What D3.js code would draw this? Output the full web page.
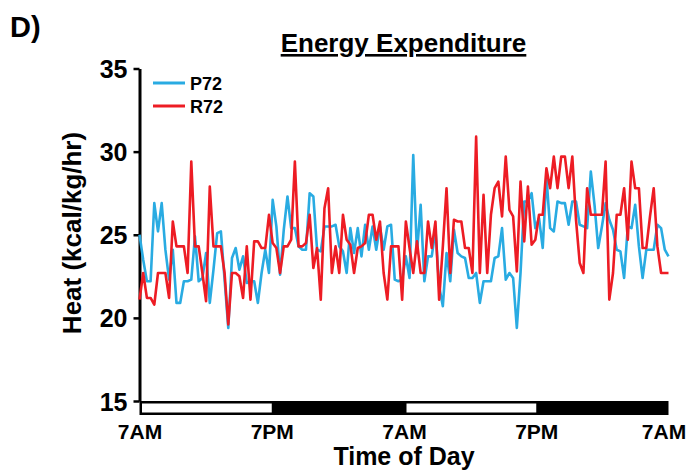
<!DOCTYPE html>
<html>
<head>
<meta charset="utf-8">
<script src="https://cdn.jsdelivr.net/npm/d3@7"></script>
<style>
  body { margin: 0; background: #fff; }
  text { font-family: Arial, "Liberation Sans", sans-serif; font-weight: bold; fill: #000; }
</style>
</head>
<body>
<div id="my_dataviz"></div>
<script>
// data, one value per 20 min bin over 48 h
var p72 = [
  25.0, 23.5, 22.2, 22.2, 26.9, 25.2, 26.9, 24.1, 22.3, 24.1,
  20.9, 20.9, 22.2, 22.2, 22.3, 24.9, 22.2, 22.4, 23.9, 20.9,
  22.9, 25.1, 25.2, 22.3, 19.4, 23.6, 24.2, 22.9, 23.7, 22.1,
  22.2, 22.2, 20.9, 22.7, 24.1, 22.7, 27.1, 25.5, 22.6, 25.3,
  27.3, 25.4, 25.4, 24.3, 24.1, 24.1, 27.5, 27.3, 24.1, 24.0,
  25.5, 25.5, 25.5, 25.6, 24.3, 24.0, 22.7, 25.4, 23.9, 25.4,
  23.7, 25.6, 24.1, 25.5, 24.1, 25.5, 24.1, 25.5, 25.6, 22.3,
  22.2, 22.3, 23.7, 22.4, 29.8, 23.9, 26.8, 22.2, 23.7, 23.7,
  25.3, 21.9, 20.7, 23.9, 22.2, 25.3, 23.9, 23.7, 23.6, 22.4,
  22.4, 22.7, 20.9, 22.2, 22.2, 22.2, 23.6, 23.7, 25.4, 22.3,
  22.7, 22.4, 19.4, 22.7, 27.0, 27.0, 27.5, 25.4, 26.0, 24.2,
  28.5, 25.4, 25.2, 27.0, 26.9, 26.9, 25.6, 27.0, 27.0, 25.6,
  25.5, 25.4, 28.8, 26.8, 24.2, 25.5, 26.9, 25.9, 25.3, 24.1,
  24.0, 22.4, 25.5, 25.4, 26.8, 24.3, 22.4, 24.1, 24.1, 24.1,
  25.6, 25.4, 24.1, 23.7
];
var r72 = [
  21.1, 22.7, 21.2, 21.2, 20.8, 22.7, 22.7, 22.7, 21.2, 25.8,
  24.3, 24.3, 24.3, 22.7, 29.4, 24.3, 24.3, 22.7, 21.0, 27.9,
  24.3, 24.3, 24.3, 22.7, 19.6, 22.7, 22.7, 22.5, 21.2, 24.3,
  21.1, 24.6, 24.6, 24.2, 24.2, 26.2, 24.5, 24.2, 22.7, 24.3,
  24.3, 24.7, 29.4, 24.3, 24.3, 24.5, 26.2, 23.0, 24.2, 21.1,
  26.6, 27.8, 22.7, 24.3, 22.7, 26.2, 24.7, 24.4, 22.7, 24.2,
  24.3, 24.5, 26.2, 26.2, 24.7, 25.8, 22.7, 21.1, 24.3, 24.3,
  24.3, 21.1, 25.8, 24.2, 22.7, 24.6, 22.7, 22.7, 25.8, 24.2,
  25.8, 21.1, 24.3, 27.8, 22.7, 25.9, 25.8, 25.8, 24.2, 24.2,
  22.7, 30.9, 22.7, 27.4, 22.7, 26.2, 27.8, 28.2, 26.1, 29.7,
  26.5, 26.1, 22.8, 28.2, 24.6, 27.9, 24.4, 24.7, 26.2, 26.2,
  29.0, 27.8, 29.7, 27.8, 29.7, 29.7, 27.8, 29.7, 25.9, 23.3,
  22.7, 27.8, 26.2, 26.2, 26.2, 26.2, 29.4, 21.1, 22.7, 26.2,
  26.2, 27.8, 24.7, 29.4, 27.8, 27.8, 24.2, 24.2, 26.1, 27.8,
  24.3, 22.7, 22.7, 22.7
];
var seriesNames = ["P72", "R72"];
var colors = ["#29abe2", "#ed1c24"];
var tickHours = [0, 12, 24, 36, 48];
var tickLabels = ["7AM", "7PM", "7AM", "7PM", "7AM"];
var yTicks = [15, 20, 25, 30, 35];
// light periods (hours from start)
var lightPeriods = [[0, 12], [24, 36]];

var margin = {top: 68.5, right: 18.5, bottom: 70, left: 139.5},
    width = 687 - margin.left - margin.right,
    height = 471 - margin.top - margin.bottom;

var svg = d3.select("#my_dataviz")
    .append("svg")
    .attr("width", 687)
    .attr("height", 471);

var g = svg.append("g")
    .attr("transform", "translate(" + margin.left + "," + margin.top + ")");

var x = d3.scaleLinear().domain([0, 48]).range([0, width]);
var y = d3.scaleLinear().domain([15, 35]).range([height, 0]);

function hourOf(i, n) { return i * 48 / (n - 1); }

// panel letter and title
svg.append("text").attr("x", 10).attr("y", 37).style("font-size", "29px").text("D)");
svg.append("text").attr("x", 403.5).attr("y", 52).attr("text-anchor", "middle")
    .style("font-size", "26px").style("text-decoration", "underline")
    .text("Energy Expenditure");

// light / dark bar
var barH = 14;
g.append("rect")
    .attr("x", x(0)).attr("y", height)
    .attr("width", x(48) - x(0)).attr("height", barH)
    .attr("fill", "#000");
g.selectAll(".light").data(lightPeriods).enter().append("rect")
    .attr("x", function(d) { return x(d[0]) + 2.5; })
    .attr("y", height + 2.5)
    .attr("width", function(d) { return x(d[1]) - x(d[0]) - 2.5; })
    .attr("height", barH - 5)
    .attr("fill", "#fff");

// x axis labels
var xAxis = g.append("g")
    .attr("transform", "translate(0," + (height + barH) + ")")
    .call(d3.axisBottom(x).tickValues(tickHours).tickSize(0).tickPadding(0)
        .tickFormat(function(d, i) { return tickLabels[i]; }));
xAxis.select(".domain").remove();
xAxis.selectAll("text")
    .attr("y", 24).attr("dy", 0)
    .style("font-size", "21px")
    .attr("dx", function(d, i) { return i === tickHours.length - 1 ? -5 : 0; });

// y axis
var yAxis = g.append("g")
    .call(d3.axisLeft(y).tickValues(yTicks).tickSize(6).tickSizeOuter(0).tickPadding(6));
yAxis.select(".domain").attr("stroke-width", 3);
yAxis.selectAll(".tick line").attr("stroke-width", 2.5);
yAxis.selectAll("text").style("font-size", "25px").attr("dy", "0.36em");

// axis titles
svg.append("text")
    .attr("transform", "translate(81," + 233 + ") rotate(-90)")
    .attr("text-anchor", "middle")
    .style("font-size", "26px")
    .text("Heat (kcal/kg/hr)");
svg.append("text")
    .attr("x", 404).attr("y", 465).attr("text-anchor", "middle")
    .style("font-size", "25px")
    .text("Time of Day");

// lines
var line = d3.line()
    .x(function(d, i, arr) { return x(hourOf(i, arr.length)); })
    .y(function(d) { return y(d); });

[p72, r72].forEach(function(s, k) {
  g.append("path")
      .datum(s)
      .attr("fill", "none")
      .attr("stroke", colors[k])
      .attr("stroke-width", 2.6)
      .attr("stroke-linejoin", "round")
      .attr("d", line);
});

// legend
var legend = svg.append("g").attr("transform", "translate(153,83)");
seriesNames.forEach(function(name, k) {
  legend.append("line")
      .attr("x1", 0).attr("x2", 32)
      .attr("y1", k * 23).attr("y2", k * 23)
      .attr("stroke", colors[k]).attr("stroke-width", 3);
  legend.append("text")
      .attr("x", 37).attr("y", k * 23 + 6.5)
      .style("font-size", "18px")
      .text(name);
});
</script>
</body>
</html>
